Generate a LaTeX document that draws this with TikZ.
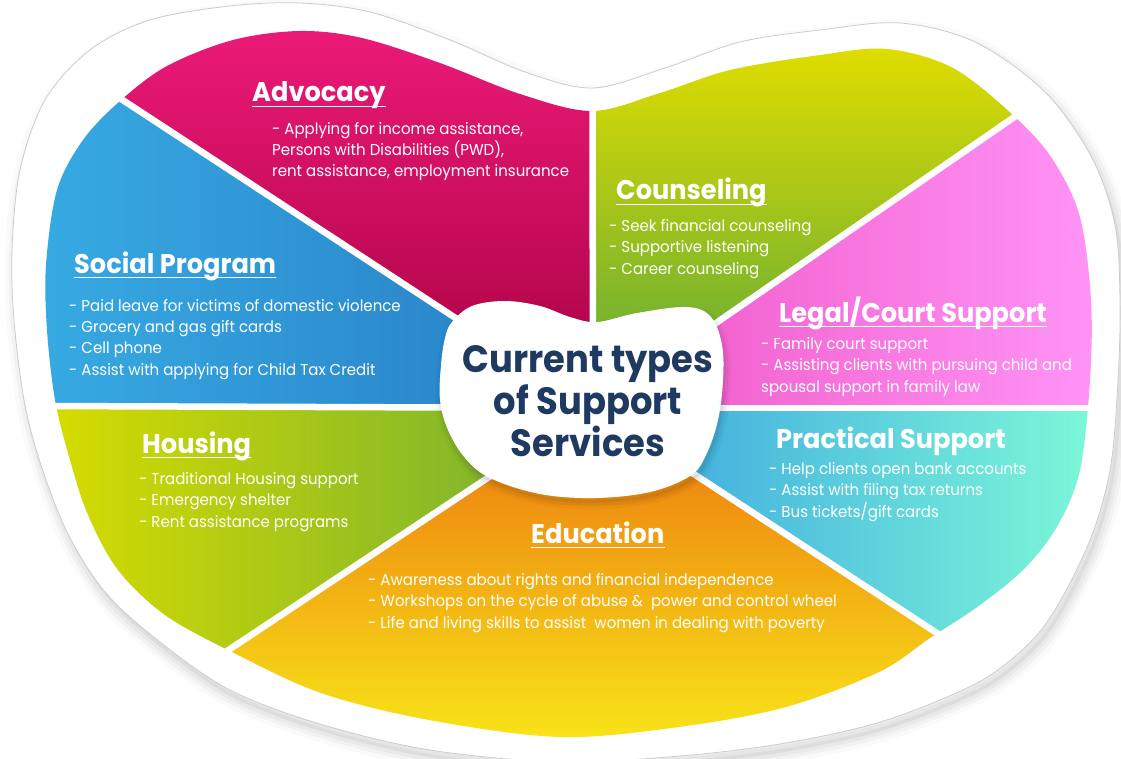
\documentclass[tikz,border=0pt]{standalone}
\usepackage{fontspec}
\newfontfamily\bodyf{Poppins}[FakeStretch=0.95]
\newfontfamily\headf{Poppins}[FakeStretch=0.95]
\newfontfamily\titlef{Poppins}[FakeStretch=0.93]
\definecolor{pinkT}{HTML}{EC1A78}
\definecolor{pinkB}{HTML}{B5064C}
\definecolor{blueL}{HTML}{37AAE2}
\definecolor{blueR}{HTML}{2A86CB}
\definecolor{housL}{HTML}{D6DC00}
\definecolor{housR}{HTML}{80B52D}
\definecolor{eduT}{HTML}{EE8810}
\definecolor{eduB}{HTML}{F8E418}
\definecolor{pracL}{HTML}{45B2DF}
\definecolor{pracR}{HTML}{7DF8D8}
\definecolor{legL}{HTML}{F262CF}
\definecolor{legR}{HTML}{FF94F6}
\definecolor{counT}{HTML}{E0DD00}
\definecolor{counB}{HTML}{76B22F}
\definecolor{navy}{HTML}{1F3A60}
\begin{document}
\begin{tikzpicture}[x=1pt,y=-1pt,
  Pshape/.style={insert path={plot[smooth cycle,tension=0.55] coordinates {(120,101) (167,66) (233,40) (300,31) (362,38) (440,63) (520,94) (592,111) (660,93) (730,70) (820,55) (887,49) (953,68) (1015,117) (1053,160) (1080,217) (1091,300) (1090,380) (1080,470) (1058,525) (1025,568) (980,605) (930,638) (879,672) (786,707) (679,727) (560,737) (429,720) (321,693) (232,652) (165,615) (118,570) (88,515) (70,460) (55,400) (47,330) (46,265) (57,190) (83,140)}}},
  Wshape/.style={insert path={plot[smooth cycle,tension=0.55] coordinates {(20,170) (45,100) (90,50) (150,20) (230,6) (300,3) (370,12) (450,40) (525,72) (593,88) (665,68) (740,42) (820,30) (900,23) (975,42) (1045,92) (1092,158) (1115,225) (1120,300) (1118,380) (1110,470) (1088,545) (1045,625) (995,672) (940,700) (870,725) (780,744) (680,756) (560,762) (430,750) (320,724) (230,690) (160,642) (105,592) (67,532) (40,462) (24,400) (14,320) (12,250)}}},
  Bshape/.style={insert path={plot[smooth cycle,tension=0.6] coordinates {(452,322) (472,306) (505,301) (540,306) (570,317) (597,322) (637,313) (687,307) (711,317) (722,345) (723,380) (718,420) (706,455) (690,476) (650,492) (595,498) (540,494) (490,478) (465,458) (448,430) (440,400) (441,365) (445,338)}}},
  divline/.style={white, line width=6.5pt},
  headtxt/.style={anchor=base west, inner sep=0pt, text=white, font=\headf\bfseries\fontsize{27}{30}\selectfont},
  bodytxt/.style={anchor=base west, inner sep=0pt, text=white, align=left, font=\bodyf\fontsize{15.8}{21.2}\selectfont},
  ulline/.style={white, line width=1.8pt}
]
\useasboundingbox (0,0) rectangle (1121,759);
% shadow of outer shape
\begin{scope}[shift={(4,8)}]
  \foreach \w/\o in {22/0.02, 14/0.03, 7/0.04} {\draw[black, opacity=\o, line width=\w pt, line join=round, Wshape];}
  \fill[black, opacity=0.05, Wshape];
\end{scope}
\fill[white, draw=gray!40, line width=0.8pt, Wshape];
% centre and ray ends
\coordinate (O) at (593,408);
\coordinate (f1) at (-817,-516);
\coordinate (f2) at (592,-486);
\coordinate (f3) at (1859,-465);
\coordinate (f4) at (2075,408);
\coordinate (f5) at (1610,1074);
\coordinate (f6) at (-490,1128);
\coordinate (f7) at (-1036,406);
% sectors
\begin{scope}\clip[Pshape]; \clip (O) -- (f1) -- (f2) -- cycle;
  \shade[top color=pinkT, bottom color=pinkB] (100,25) rectangle (600,330); \end{scope}
\begin{scope}\clip[Pshape]; \clip (O) -- (f2) -- (f3) -- cycle;
  \shade[top color=counT, bottom color=counB] (585,45) rectangle (1030,330); \end{scope}
\begin{scope}\clip[Pshape]; \clip (O) -- (f3) -- (f4) -- cycle;
  \shade[left color=legL, right color=legR] (700,100) rectangle (1095,412); \end{scope}
\begin{scope}\clip[Pshape]; \clip (O) -- (f4) -- (f5) -- cycle;
  \shade[left color=pracL, right color=pracR] (690,404) rectangle (1095,650); \end{scope}
\begin{scope}\clip[Pshape]; \clip (O) -- (f5) -- (f6) -- cycle;
  \shade[top color=eduT, bottom color=eduB] (220,470) rectangle (960,740); \end{scope}
\begin{scope}\clip[Pshape]; \clip (O) -- (f6) -- (f7) -- cycle;
  \shade[left color=housL, right color=housR] (50,400) rectangle (500,665); \end{scope}
\begin{scope}\clip[Pshape]; \clip (O) -- (f7) -- (f1) -- cycle;
  \shade[left color=blueL, right color=blueR] (40,90) rectangle (470,410); \end{scope}
% dividers
\coordinate (d1) at (115,95);
\coordinate (d2) at (592.5,100);
\coordinate (d3) at (1023,111);
\coordinate (d4) at (1098,408);
\coordinate (d5) at (949,641);
\coordinate (d6) at (215,659);
\coordinate (d7) at (40,406);
\foreach \d in {d1,d2,d3,d4,d5,d6,d7} {\draw[divline] (O) -- (\d);}
% central blob
\begin{scope}[shift={(2,5)}]
  \foreach \w/\o in {12/0.03, 6/0.05} {\draw[black, opacity=\o, line width=\w pt, line join=round, Bshape];}
  \fill[black, opacity=0.06, Bshape];
\end{scope}
\fill[white, Bshape];
\node[anchor=base, inner sep=0pt, align=center, text=navy, font=\titlef\bfseries\fontsize{38}{42}\selectfont] (title) at (588,456) {Current types\\of Support\\Services};
% headings
\node[headtxt] (hAdv) at (252,102) {Advocacy};
\node[headtxt] (hCou) at (616,200) {Counseling};
\node[headtxt] (hSoc) at (74,273) {Social Program};
\node[headtxt] (hLeg) at (779,322) {Legal/Court Support};
\node[headtxt] (hHou) at (142,453) {Housing};
\node[headtxt] (hPra) at (776,448) {Practical Support};
\node[headtxt] (hEdu) at (531,543) {Education};
\foreach \h in {hAdv,hCou,hSoc,hLeg,hHou,hEdu} {\draw[ulline] ([yshift=-4.5pt]\h.base west) -- ([yshift=-4.5pt]\h.base east);}
% bodies (anchor = baseline of the last line)
\node[bodytxt] (bAdv) at (272,177) {- Applying for income assistance,\\Persons with Disabilities (PWD),\\rent assistance, employment insurance};
\node[bodytxt] (bCou) at (609,274) {- Seek financial counseling\\- Supportive listening\\- Career counseling};
\node[bodytxt] (bSoc) at (69,375) {- Paid leave for victims of domestic violence\\- Grocery and gas gift cards\\- Cell phone\\- Assist with applying for Child Tax Credit};
\node[bodytxt] (bLeg) at (761,392) {- Family court support\\- Assisting clients with pursuing child and\\spousal support in family law};
\node[bodytxt] (bHou) at (139,527) {- Traditional Housing support\\- Emergency shelter\\- Rent assistance programs};
\node[bodytxt] (bPra) at (769,517) {- Help clients open bank accounts\\- Assist with filing tax returns\\- Bus tickets/gift cards};
\node[bodytxt] (bEdu) at (368,628) {- Awareness about rights and financial independence\\- Workshops on the cycle of abuse \&\ \ power and control wheel\\- Life and living skills to assist\ \ women in dealing with poverty};
\end{tikzpicture}
\end{document}
